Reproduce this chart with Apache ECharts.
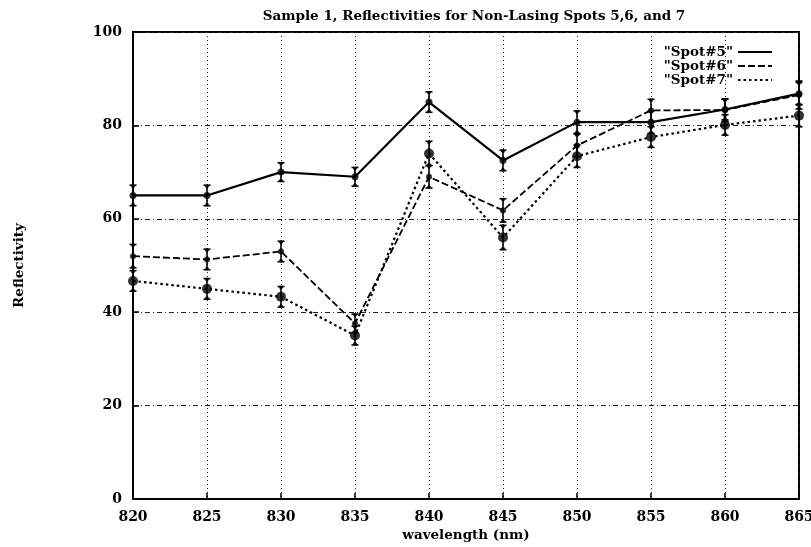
<!DOCTYPE html>
<html>
<head>
<meta charset="utf-8">
<script src="https://cdn.jsdelivr.net/npm/echarts@6/dist/echarts.min.js"></script>
<style>
  html, body { margin: 0; padding: 0; background: #fff; }
  #chart { width: 811px; height: 547px; }
</style>
</head>
<body>
<div id="chart"></div>
<script>
// Wavelengths (nm) and measured reflectivities with error half-widths
const wavelengths = [820, 825, 830, 835, 840, 845, 850, 855, 860, 865];
const spot5 = [65, 65, 70, 69, 85, 72.5, 80.7, 80.7, 83.4, 86.8];
const spot6 = [52, 51.3, 53, 37.6, 69, 61.8, 75.7, 83.2, 83.3, 86.5];
const spot7 = [46.7, 45, 43.3, 35, 74, 56, 73.4, 77.5, 80.1, 82.1];
const err5 = [2.2, 2.2, 2.0, 2.0, 2.2, 2.2, 2.4, 2.4, 2.2, 2.4];
const err6 = [2.5, 2.2, 2.2, 2.0, 2.4, 2.5, 2.4, 2.4, 2.4, 3.0];
const err7 = [2.2, 2.2, 2.2, 2.0, 2.6, 2.6, 2.4, 2.2, 2.2, 2.4];
const seriesNames = ['"Spot#5"', '"Spot#6"', '"Spot#7"'];
const xTicks = [820, 825, 830, 835, 840, 845, 850, 855, 860, 865];
const yTicks = [0, 20, 40, 60, 80, 100];

const FONT = '"DejaVu Serif", "Liberation Serif", serif';

function pairs(xs, ys) { return xs.map((x, i) => [x, ys[i]]); }
function errRows(xs, ys, es) { return xs.map((x, i) => [x, ys[i] - es[i], ys[i] + es[i]]); }

function errorBarSeries(rows) {
  return {
    type: 'custom',
    silent: true,
    z: 4,
    data: rows,
    renderItem: function (params, api) {
      const x = api.value(0);
      const lo = api.coord([x, api.value(1)]);
      const hi = api.coord([x, api.value(2)]);
      const cap = 3.5;
      const st = { stroke: '#000', lineWidth: 1.6 };
      return {
        type: 'group',
        children: [
          { type: 'line', shape: { x1: lo[0], y1: lo[1], x2: hi[0], y2: hi[1] }, style: st },
          { type: 'line', shape: { x1: lo[0] - cap, y1: lo[1], x2: lo[0] + cap, y2: lo[1] }, style: st },
          { type: 'line', shape: { x1: hi[0] - cap, y1: hi[1], x2: hi[0] + cap, y2: hi[1] }, style: st },
          { type: 'circle', shape: { cx: lo[0], cy: lo[1] - 1, r: 1.8 }, style: { fill: '#000' } },
          { type: 'circle', shape: { cx: hi[0], cy: hi[1] + 1, r: 1.8 }, style: { fill: '#000' } }
        ]
      };
    }
  };
}

function lineSeries(name, ys, type, width) {
  return {
    name: name,
    type: 'line',
    data: pairs(wavelengths, ys),
    symbol: 'none',
    showSymbol: false,
    z: 3,
    lineStyle: { color: '#000', width: width, type: type },
    itemStyle: { color: '#000' },
    animation: false
  };
}

function markerSeries(ys, size, symbol) {
  return {
    type: 'scatter',
    data: pairs(wavelengths, ys),
    symbol: symbol,
    symbolSize: size,
    silent: true,
    z: 5,
    itemStyle: { color: '#000' }
  };
}

const chart = echarts.init(document.getElementById('chart'), null, { renderer: 'canvas' });

chart.setOption({
  animation: false,
  backgroundColor: '#fff',
  title: {
    text: 'Sample 1, Reflectivities for Non-Lasing Spots 5,6, and 7',
    left: 469,
    textAlign: 'center',
    top: 4,
    textStyle: { fontFamily: FONT, fontSize: 13.5, fontWeight: 'bold', color: '#000' }
  },
  legend: {
    data: seriesNames,
    orient: 'vertical',
    right: 33,
    top: 40,
    align: 'right',
    itemGap: 0,
    itemWidth: 34,
    itemHeight: 12,
    textStyle: { fontFamily: FONT, fontSize: 13.5, fontWeight: 'bold', color: '#000', lineHeight: 13 },
    itemStyle: { opacity: 0 }
  },
  grid: {
    left: 133,
    right: 12,
    top: 32,
    bottom: 48,
    outerBoundsMode: 'none',
    containLabel: false,
    show: true,
    borderColor: '#000',
    borderWidth: 2
  },
  xAxis: {
    type: 'value',
    min: xTicks[0],
    max: xTicks[xTicks.length - 1],
    interval: 5,
    name: 'wavelength (nm)',
    nameLocation: 'middle',
    nameGap: 27,
    nameTextStyle: { fontFamily: FONT, fontSize: 13.5, fontWeight: 'bold', color: '#000' },
    axisLine: { show: true, lineStyle: { color: '#000', width: 2 } },
    axisTick: { show: true, inside: true, length: 6, lineStyle: { color: '#000', width: 1.5 } },
    axisLabel: { fontFamily: FONT, fontSize: 14, fontWeight: 'bold', color: '#000', margin: 11 },
    splitLine: { show: true, lineStyle: { color: '#222', width: 1, type: [1, 3] } }
  },
  yAxis: {
    type: 'value',
    min: yTicks[0],
    max: yTicks[yTicks.length - 1],
    interval: 20,
    name: 'Reflectivity',
    nameLocation: 'middle',
    nameRotate: 90,
    nameGap: 107,
    nameTextStyle: { fontFamily: FONT, fontSize: 13.5, fontWeight: 'bold', color: '#000' },
    axisLine: { show: true, lineStyle: { color: '#000', width: 2 } },
    axisTick: { show: true, inside: true, length: 6, lineStyle: { color: '#000', width: 1.5 } },
    axisLabel: { fontFamily: FONT, fontSize: 14, fontWeight: 'bold', color: '#000', margin: 11 },
    splitLine: { show: true, lineStyle: { color: '#222', width: 1.2, type: [5, 3, 1, 3] } }
  },
  series: [
    lineSeries(seriesNames[0], spot5, 'solid', 2.2),
    lineSeries(seriesNames[1], spot6, [7, 3], 1.8),
    lineSeries(seriesNames[2], spot7, [2.5, 3], 2.2),
    errorBarSeries(errRows(wavelengths, spot5, err5)),
    errorBarSeries(errRows(wavelengths, spot6, err6)),
    errorBarSeries(errRows(wavelengths, spot7, err7)),
    markerSeries(spot5, 7, 'circle'),
    markerSeries(spot6, 6, 'circle'),
    markerSeries(spot7, 10, 'circle')
  ]
});
</script>
</body>
</html>
